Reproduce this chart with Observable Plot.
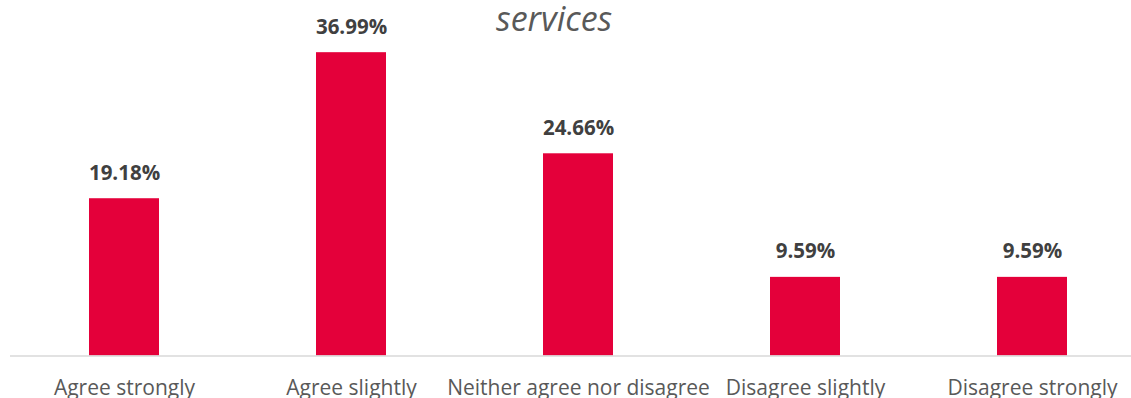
<!DOCTYPE html>
<html>
<head>
<meta charset="utf-8">
<script src="https://cdn.jsdelivr.net/npm/d3@7"></script>
<script src="https://cdn.jsdelivr.net/npm/@observablehq/plot@0.6"></script>
<style>
  html, body { margin: 0; padding: 0; background: #fff; }
  #wrap { position: relative; width: 1131px; height: 398px; overflow: hidden; }
  #title { position: absolute; left: 496px; top: -5px; font-family: "Open Sans", sans-serif; font-style: italic; font-size: 34px; color: #595959; line-height: 1.362; white-space: nowrap; }
  #chart { position: absolute; left: 0; top: 0; }
</style>
</head>
<body>
<div id="wrap">
  <div id="chart"></div>
  <div id="title">services</div>
</div>
<script>
const categories = ["Agree strongly", "Agree slightly", "Neither agree nor disagree", "Disagree slightly", "Disagree strongly"];
const values = [19.18, 36.99, 24.66, 9.59, 9.59];
const labels = ["19.18%", "36.99%", "24.66%", "9.59%", "9.59%"];

const data = categories.map((c, i) => ({category: c, value: values[i], label: labels[i]}));

const chart = Plot.plot({
  width: 1131,
  height: 398,
  marginLeft: 10,
  marginRight: 0,
  marginTop: 0,
  marginBottom: 42.5,
  style: {fontFamily: "'Open Sans', sans-serif", background: "#fff"},
  x: {domain: categories, range: [10.5, 1145.5], paddingInner: 0.69, paddingOuter: 0.345, align: 0.5},
  y: {domain: [0, 40], range: [355.5, 27.5], axis: null},
  marks: [
    Plot.barY(data, {x: "category", y: "value", fill: "#e4003a"}),
    Plot.ruleY([0], {stroke: "#d9d9d9", strokeWidth: 1.5}),
    Plot.text(data, {x: "category", y: "value", text: "label", dy: -19, lineAnchor: "bottom", fill: "#404040", fontWeight: "bold", fontSize: 20.5}),
    Plot.axisX({tickSize: 0, tickPadding: 24, fontSize: 21, color: "#595959", label: null})
  ]
});
document.getElementById("chart").appendChild(chart);
</script>
</body>
</html>
